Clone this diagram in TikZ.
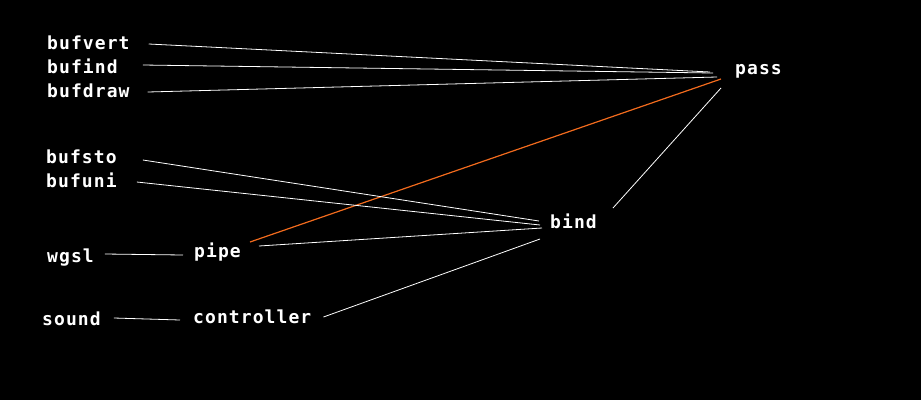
\documentclass[tikz,border=0pt]{standalone}
\usepackage{fontspec}
\newfontfamily\gvfont{DejaVu Sans Mono}[LetterSpace=6]
\usetikzlibrary{calc}
\definecolor{hotedge}{HTML}{F26B1D}
\begin{document}
\begin{tikzpicture}
    [x=1pt, y=-1pt,
    lbl/.style={anchor=base west, inner sep=0pt, text=white,
      font=\gvfont\bfseries\fontsize{18}{20}\selectfont},
    edge/.style={draw=white, line width=0.8pt},
    hot/.style={draw=hotedge, line width=1.2pt}]
    \fill[black] (0,0) rectangle (921,400);
    \useasboundingbox (0,0) rectangle (921,400);
    % nodes
    \node[lbl] (bufvert) at (47,49) {bufvert};
    \node[lbl] (bufind) at (47,73) {bufind};
    \node[lbl] (bufdraw) at (47,97) {bufdraw};
    \node[lbl] (bufsto) at (46,163) {bufsto};
    \node[lbl] (bufuni) at (46,187) {bufuni};
    \node[lbl] (wgsl) at (47,262) {wgsl};
    \node[lbl] (sound) at (42,325) {sound};
    \node[lbl] (pipe) at (194,257) {pipe};
    \node[lbl] (controller) at (193,323) {controller};
    \node[lbl] (bind) at (550,228) {bind};
    \node[lbl] (pass) at (735,74) {pass};
    % edges into pass
    \draw[edge] ($(bufvert.base east)+(19,-5)$) -- ($(pass.base west)+(-25,-2)$);
    \draw[edge] ($(bufind.base east)+(25,-8)$) -- ($(pass.base west)+(-22,-1)$);
    \draw[edge] ($(bufdraw.base east)+(18,-5)$) -- ($(pass.base west)+(-18,3)$);
    \draw[hot] ($(pipe.base east)+(9,-15)$) -- ($(pass.base west)+(-14,5)$);
    \draw[edge] ($(bind.base east)+(16,-20)$) -- ($(pass.base west)+(-14,14)$);
    % edges into bind
    \draw[edge] ($(bufsto.base east)+(26,-3)$) -- ($(bind.base west)+(-11,-7)$);
    \draw[edge] ($(bufuni.base east)+(20,-5)$) -- ($(bind.base west)+(-10,-3)$);
    \draw[edge] ($(pipe.base east)+(18,-11)$) -- ($(bind.base west)+(-8,0)$);
    \draw[edge] ($(controller.base east)+(12,-6)$) -- ($(bind.base west)+(-10,11)$);
    % inputs
    \draw[edge] ($(wgsl.base east)+(11,-8)$) -- ($(pipe.base west)+(-11,-2)$);
    \draw[edge] ($(sound.base east)+(13,-7)$) -- ($(controller.base west)+(-13,-3)$);
\end{tikzpicture}
\end{document}
